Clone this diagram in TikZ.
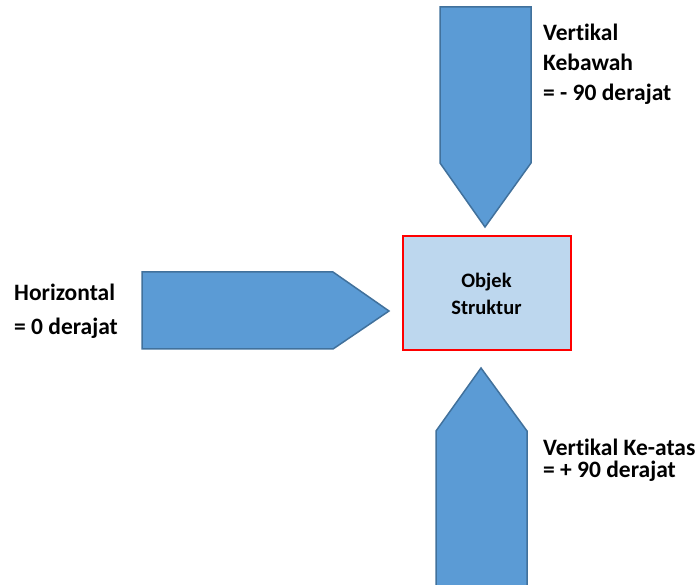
\documentclass[tikz,border=0pt]{standalone}
\usepackage{fontspec}
\setmainfont{Carlito}[Ligatures=NoCommon]
\definecolor{arrowfill}{RGB}{91,155,213}
\definecolor{arrowline}{RGB}{65,113,156}
\definecolor{boxfill}{RGB}{189,215,238}
\tikzset{
  bigarrow/.style={fill=arrowfill, draw=arrowline, line width=1.5pt, line join=miter},
  objbox/.style={fill=boxfill, draw=red, line width=2pt, minimum width=168pt, minimum height=114pt,
    align=center, font=\bfseries\fontsize{20.5}{27}\selectfont},
  lbl/.style={anchor=north west, inner sep=0pt, align=left}
}
\begin{document}
\begin{tikzpicture}[x=1pt,y=-1pt]
\useasboundingbox (0,0) rectangle (699,585);
% panah dari atas
\draw[bigarrow] (440,7) -- (531,7) -- (531,163) -- (485,227) -- (440,163) -- cycle;
% panah dari kiri
\draw[bigarrow] (142,272) -- (333,272) -- (389,311) -- (333,349) -- (142,349) -- cycle;
% panah dari bawah
\draw[bigarrow] (436,600) -- (436,431) -- (481,368) -- (527,431) -- (527,600) -- cycle;
\node[objbox] (objek) at (486.5,293.5) {Objek\\Struktur};
\node[lbl, font=\bfseries\fontsize{23.5}{30}\selectfont] (bawah) at (543,24) {Vertikal\\Kebawah\\= - 90 derajat};
\node[lbl, font=\bfseries\fontsize{23.5}{34}\selectfont] (horiz) at (14,284) {Horizontal\\= 0 derajat};
\node[lbl, font=\bfseries\fontsize{23.5}{21.5}\selectfont] (atas) at (543,439) {Vertikal Ke-atas\\= + 90 derajat};
\end{tikzpicture}
\end{document}
